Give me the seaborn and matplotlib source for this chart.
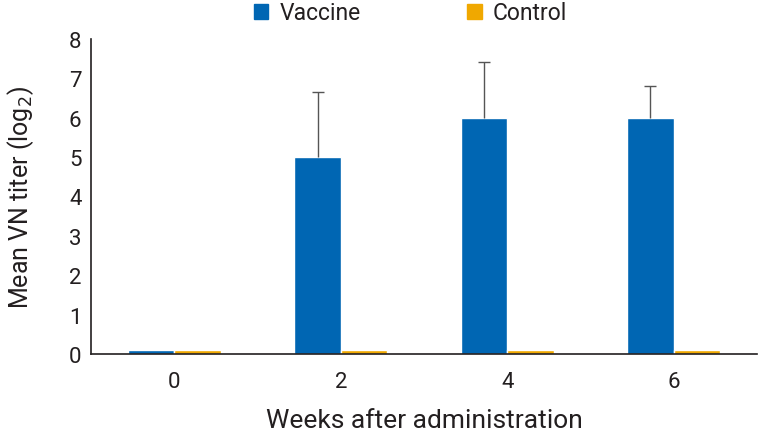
import numpy as np
import pandas as pd
import matplotlib
matplotlib.use("Agg")
import matplotlib.pyplot as plt
import seaborn as sns

weeks = ["0", "2", "4", "6"]
vaccine_mean = [0.1, 5.0, 6.0, 6.0]
vaccine_sd = [0.0, 1.65, 1.42, 0.8]
control_mean = [0.1, 0.1, 0.1, 0.1]
control_sd = [0.0, 0.0, 0.0, 0.0]
groups = ["Vaccine", "Control"]
colors = ["#0066b3", "#f0a800"]

df = pd.DataFrame({
    "week": weeks * 2,
    "group": [groups[0]] * 4 + [groups[1]] * 4,
    "mean": vaccine_mean + control_mean,
    "sd": vaccine_sd + control_sd,
})

sns.set_style("white")
plt.rcParams["font.family"] = ["Roboto", "DejaVu Sans"]

fig = plt.figure(figsize=(7.6, 4.35), dpi=100)
ax = fig.add_axes([0.12, 0.184, 0.876, 0.724])

sns.barplot(data=df, x="week", y="mean", hue="group", palette=colors,
            width=0.56, gap=0, errorbar=None, saturation=1, ax=ax, legend=False)

# upward-only error bars on the vaccine bars
for patch, (_, row) in zip(ax.patches[:4], df.iloc[:4].iterrows()):
    if row["sd"] > 0:
        xc = patch.get_x() + patch.get_width() / 2
        _, caps, _ = ax.errorbar(xc, row["mean"], yerr=[[0], [row["sd"]]], fmt="none",
                                 ecolor="#555555", elinewidth=1, capsize=4, capthick=1)
        caps[0].set_visible(False)

ax.set_ylim(0, 8)
ax.set_xlim(-0.5, 3.5)
ax.set_yticks(range(0, 9))
ax.set_xticks([-0.5, 0.5, 1.5, 2.5, 3.5], minor=True)
ax.tick_params(axis="x", which="major", length=0, labelsize=16, pad=12, colors="#231f20")
ax.tick_params(axis="x", which="minor", direction="in", length=7, width=1, color="#231f20")
ax.tick_params(axis="y", direction="in", length=7, width=1, labelsize=16, color="#231f20",
               labelcolor="#231f20", pad=7)
for s in ["top", "right"]:
    ax.spines[s].set_visible(False)
for s in ["left", "bottom"]:
    ax.spines[s].set_color("#231f20")
    ax.spines[s].set_linewidth(1.2)

ax.set_xlabel("Weeks after administration", fontsize=19, color="#231f20", labelpad=12)
ax.set_ylabel("Mean VN titer (log$_2$)", fontsize=18, color="#231f20", labelpad=24)

handles = [plt.Rectangle((0, 0), 1, 1, color=c) for c in colors]
fig.legend(handles, groups, loc="center", bbox_to_anchor=(0.54, 0.968), ncol=2,
           frameon=False, fontsize=16.5, handlelength=0.65, handleheight=0.65,
           handletextpad=0.5, columnspacing=4.6, labelcolor="#231f20")

fig.savefig("out.png", dpi=100)
